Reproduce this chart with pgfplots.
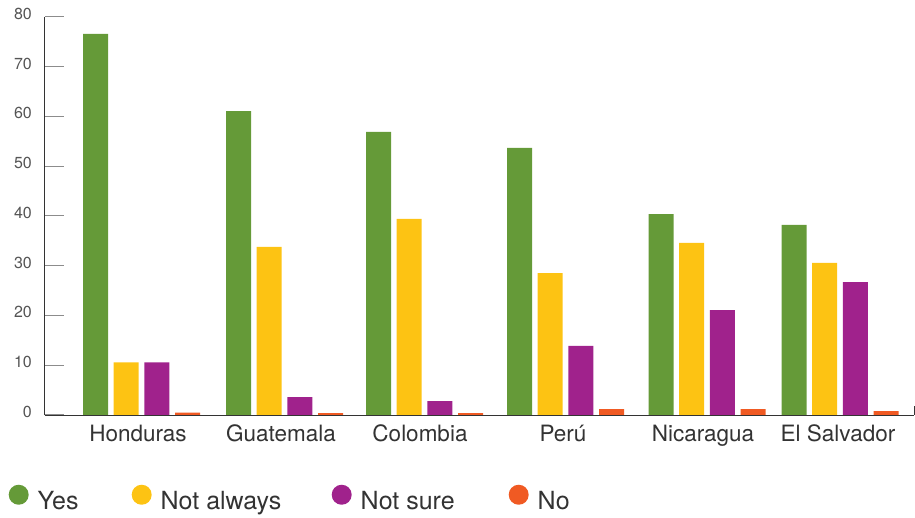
\documentclass[border=0pt]{standalone}
\usepackage{pgfplots}
\pgfplotsset{compat=1.18}
\usepackage{fontspec}
\setmainfont{TeX Gyre Heros}
\definecolor{cyes}{RGB}{101,154,56}
\definecolor{cnot}{RGB}{253,195,19}
\definecolor{csure}{RGB}{160,34,140}
\definecolor{cno}{RGB}{240,90,35}
\definecolor{ctext}{RGB}{51,51,51}
\definecolor{ctick}{RGB}{85,85,85}
\begin{document}
\begin{tikzpicture}
\useasboundingbox (0,0) rectangle (915pt,518pt);
\begin{axis}[
  at={(44.5pt,103pt)}, anchor=south west,
  scale only axis, width=869.5pt, height=398pt,
  xmin=44.5, xmax=914, ymin=0, ymax=80,
  clip=false,
  axis lines=left,
  axis line style={-, draw=ctext, line width=0.9pt},
  ybar, bar width=25,
  ytick={0,10,20,30,40,50,60,70},
  extra y ticks={80},
  extra y tick style={major tick style={draw=ctext, line width=0.9pt}},
  ytick style={draw=black!45, line width=1pt},
  major tick length=19pt,
  tick align=inside,
  /pgf/number format/assume math mode=true,
  yticklabel style={font=\fontsize{16}{18}\selectfont, text=ctick, anchor=base east, inner sep=0pt, xshift=-12.5pt, yshift=-2.5pt},
  xtick={138,281,420,563,703,838},
  xticklabels={Honduras,Guatemala,Colombia,Perú,Nicaragua,El Salvador},
  x tick style={draw=none},
  xticklabel style={font=\fontsize{22.5}{25}\selectfont, text=ctext, anchor=base, inner sep=0pt, yshift=-26.7pt},
  legend columns=4,
  legend image code/.code={\fill[#1] (10pt,15pt) circle[radius=10pt];},
  legend style={at={(axis description cs:0,0)}, anchor=west, xshift=-36pt, yshift=-83pt,
    draw=none, fill=none, inner sep=0pt,
    font=\fontsize{25}{28}\selectfont, text=ctext,
    nodes={inner sep=0pt, anchor=base west},
    /tikz/every odd column/.append style={column sep=9pt},
    /tikz/every even column/.append style={column sep=0pt}},
]
\addplot[fill=cyes, draw=none, bar shift=-46pt] coordinates {(141.5,76.6) (284.5,61.1) (424.5,56.9) (565.5,53.7) (707,40.4) (840,38.2)};
\addplot[fill=cnot, draw=none, bar shift=-15.3pt] coordinates {(141.5,10.6) (284.5,33.8) (424.5,39.4) (565.5,28.5) (707,34.6) (840,30.6)};
\addplot[fill=csure, draw=none, bar shift=15.3pt] coordinates {(141.5,10.6) (284.5,3.6) (424.5,2.8) (565.5,13.9) (707,21.1) (840,26.7)};
\addplot[fill=cno, draw=none, bar shift=46pt] coordinates {(141.5,0.5) (284.5,0.4) (424.5,0.4) (565.5,1.2) (707,1.2) (840,0.8)};
\legend{\makebox[94pt][l]{Yes},\makebox[171pt][l]{Not always},\makebox[148pt][l]{Not sure},No}
\draw[ctext, line width=0.9pt] (axis cs:914,0) -- (axis cs:914,1.9);
\end{axis}
\end{tikzpicture}
\end{document}
